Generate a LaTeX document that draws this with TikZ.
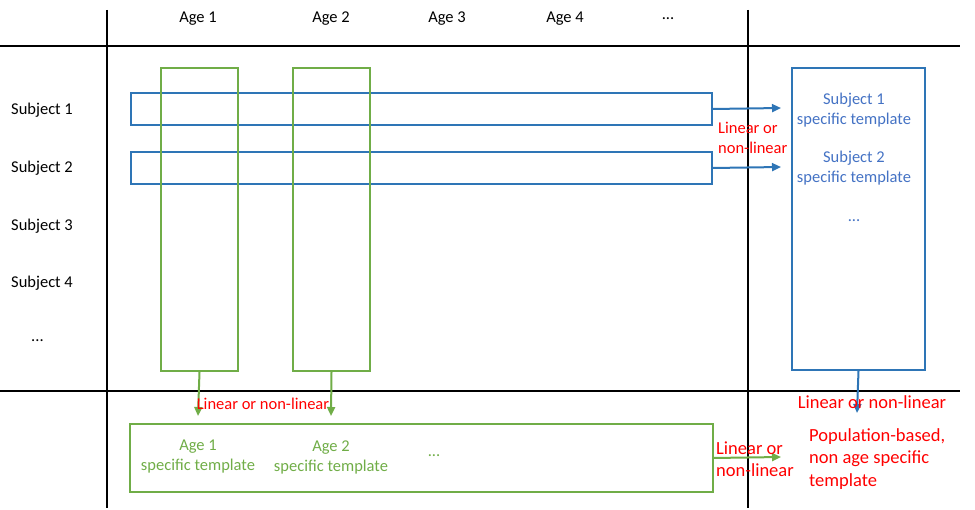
\documentclass[tikz,border=0pt]{standalone}
\usepackage{fontspec}
\setmainfont{Carlito}
\usetikzlibrary{arrows.meta}
\definecolor{bblue}{HTML}{2E75B6}
\definecolor{tblue}{HTML}{4472C4}
\definecolor{bgreen}{HTML}{70AD47}
\definecolor{rred}{HTML}{FF0000}
\tikzset{
  grid/.style={line width=1.1pt, black},
  bluebox/.style={draw=bblue, line width=2pt, inner sep=0pt, anchor=north west},
  greenbox/.style={draw=bgreen, line width=2pt, inner sep=0pt, anchor=north west},
  barrow/.style={draw=bblue, line width=2pt, -{Triangle[length=9pt,width=8pt]}},
  garrow/.style={draw=bgreen, line width=2pt, -{Triangle[length=9pt,width=8pt]}},
  lbl/.style={font=\fontsize{16.5}{20}\selectfont, inner sep=0pt},
  bigred/.style={font=\fontsize{18.5}{22.5}\selectfont, text=rred, inner sep=0pt},
  smallred/.style={font=\fontsize{16.5}{19.5}\selectfont, text=rred, inner sep=0pt},
}
\begin{document}
\begin{tikzpicture}[x=1pt,y=-1pt]
\useasboundingbox (0,0) rectangle (975,510);
% grid lines
\draw[grid] (107,10) -- (107,508);
\draw[grid] (748,10) -- (748,508);
\draw[grid] (0,46) -- (960,46);
\draw[grid] (0,391) -- (960,391);
% headers
\node[lbl] (h1) at (198,19) {Age 1};
\node[lbl] (h2) at (331,19) {Age 2};
\node[lbl] (h3) at (447,19) {Age 3};
\node[lbl] (h4) at (565,19) {Age 4};
\node[lbl] (h5) at (668,19) {...};
\node[lbl,anchor=west] (r1) at (11,110) {Subject 1};
\node[lbl,anchor=west] (r2) at (11,168) {Subject 2};
\node[lbl,anchor=west] (r3) at (11,226) {Subject 3};
\node[lbl,anchor=west] (r4) at (11,283) {Subject 4};
\node[lbl,anchor=west] (r5) at (31,341) {...};
% boxes
\node[bluebox, minimum width=581pt, minimum height=32pt] (s1) at (130,92) {};
\node[bluebox, minimum width=581pt, minimum height=32pt] (s2) at (130,151) {};
\node[greenbox, minimum width=77pt, minimum height=303pt] (g1) at (160,67) {};
\node[greenbox, minimum width=77pt, minimum height=303pt] (g2) at (292,67) {};
\node[bluebox, minimum width=133pt, minimum height=302pt] (sr) at (791,67) {};
\node[greenbox, minimum width=583pt, minimum height=68pt] (gb) at (129,423) {};
% texts in right box
\node[lbl, text=tblue, align=center] (t1) at (854,110) {Subject 1\\specific template};
\node[lbl, text=tblue, align=center] (t2) at (854,168) {Subject 2\\specific template};
\node[lbl, text=tblue] (t3) at (854,221) {...};
% texts in bottom box
\node[lbl, text=bgreen, align=center] (b1) at (198,457) {Age 1\\specific template};
\node[lbl, text=bgreen, align=center] (b2) at (331,457) {Age 2\\specific template};
\node[lbl, text=bgreen] (b3) at (434,456) {...};
% arrow ends
\coordinate (e1) at (781,108);
\coordinate (e2) at (781,167);
\coordinate (e3) at (198,416);
\coordinate (e4) at (331,416);
\coordinate (e5) at (857,413);
\coordinate (e6) at (781,457);
\draw[barrow] (s1.east) -- (e1);
\draw[barrow] (s2.east) -- (e2);
\draw[garrow] (g1.south) -- (e3);
\draw[garrow] (g2.south) -- (e4);
\draw[barrow] (sr.south) -- (e5);
\draw[garrow] (gb.east) -- (e6);
% red labels
\node[smallred, align=left, anchor=west] (l1) at (718,138) {Linear or\\non-linear};
\node[smallred] (l2) at (263,404) {Linear or non-linear};
\node[bigred] (l3) at (872,402) {Linear or non-linear};
\node[bigred, align=left, anchor=west] (l4) at (716,459) {Linear or\\non-linear};
\node[bigred, align=left, anchor=west] (l5) at (809,459) {Population-based,\\non age specific\\template};
\end{tikzpicture}
\end{document}
